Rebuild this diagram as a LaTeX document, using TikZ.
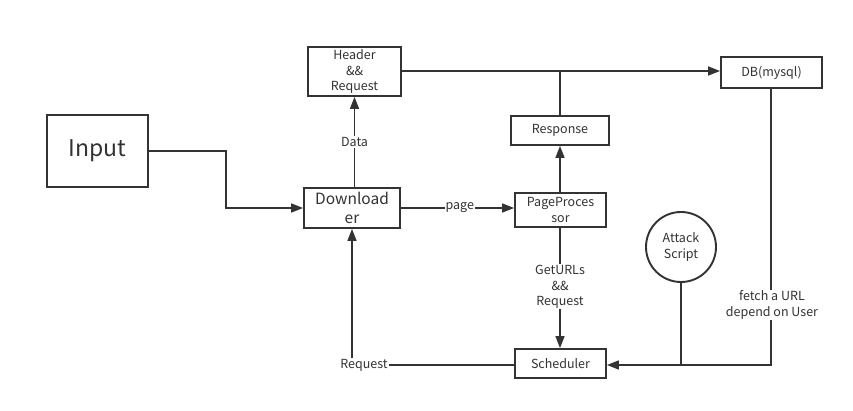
\documentclass[tikz,border=0pt]{standalone}
\usepackage{fontspec}
\setmainfont{Noto Sans CJK SC}
\usetikzlibrary{arrows.meta}
\definecolor{ink}{HTML}{333333}
\begin{document}
\begin{tikzpicture}[x=1pt,y=-1pt,
  box/.style={draw=ink,line width=1.9pt,fill=white,inner sep=0pt,font=\fontsize{12.5}{15.5}\selectfont,text=ink,align=center},
  conn/.style={draw=ink,line width=1.6pt},
  arr/.style={conn,-{Triangle[length=12pt,width=9pt]}},
  lab/.style={fill=white,inner sep=1pt,font=\fontsize{12.5}{15.5}\selectfont,text=ink,align=center}]
\useasboundingbox (0,0) rectangle (853,411);
\node[box,minimum width=93pt,minimum height=49pt] (hdr) at (354.5,71.5) {Header\\\&\&\\Request};
\node[box,minimum width=101pt,minimum height=31pt] (db) at (771.5,72.5) {DB(mysql)};
\node[box,minimum width=101pt,minimum height=72pt,font=\fontsize{23}{26}\selectfont] (inp) at (97.5,151) {Input};
\node[box,minimum width=98pt,minimum height=29pt] (resp) at (560,130.5) {Response};
\node[box,minimum width=96pt,minimum height=40pt,font=\fontsize{15.5}{19}\selectfont] (dl) at (352,208) {Download\\er};
\node[box,minimum width=91pt,minimum height=34pt] (pp) at (560.5,210) {PageProces\\sor};
\node[box,circle,minimum size=70pt] (atk) at (681,247) {Attack\\Script};
\node[box,minimum width=91pt,minimum height=29pt] (sch) at (560.5,363.5) {Scheduler};
\coordinate (c1) at (226,151);
\coordinate (c2) at (226,208);
\coordinate (j1) at (560,71);
\coordinate (rq) at (352,365);
\coordinate (ja) at (681,365);
\coordinate (jd) at (771,365);
% connectors
\draw[arr] (inp.east |- c1) -- (c1) -- (c2) -- (dl.west |- c2);
\draw[arr] (dl.north -| 354.5,0) -- node[lab,pos=0.5] {Data} (hdr.south);
\draw[arr] (hdr.east |- j1) -- (db.west |- j1);
\draw[conn] (resp.north) -- (j1);
\draw[arr] (pp.north -| resp.south) -- (resp.south);
\draw[arr] (dl.east |- 0,208) -- node[lab,pos=0.52] {page} (pp.west |- 0,208);
\draw[arr] (pp.south -| 560,0) -- node[lab,pos=0.49] {GetURLs\\\&\&\\Request} (sch.north -| 560,0);
\draw[arr] (sch.west |- rq) -- (rq) -- (dl.south);
\node[lab] (rql) at (364,365) {Request};
\draw[conn] (atk.south) -- (ja);
\draw[arr] (db.south -| jd) -- (jd) -- (sch.east |- jd);
\node[lab] (fl) at (772,305) {fetch a URL\\depend on User};
\end{tikzpicture}
\end{document}
